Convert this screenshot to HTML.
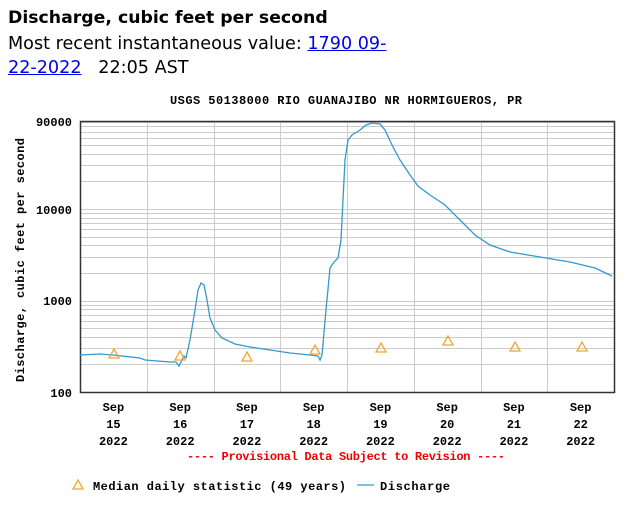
<!DOCTYPE html>
<html><head><meta charset="utf-8"><style>
body{margin:0;background:#fff;width:640px;height:508px;overflow:hidden;font-family:"DejaVu Sans","Liberation Sans",sans-serif}
.h{position:absolute;left:8px;top:8px;font-weight:bold;font-size:17.3px;color:#000}
.s{position:absolute;left:8px;top:32px;font-size:17.6px;line-height:24px;color:#000}
.s a{color:#00e;text-decoration:underline}
svg{position:absolute;left:0;top:0}
text{font-family:"Liberation Mono",monospace;font-weight:bold;font-size:12px}
</style></head><body>
<div class="h">Discharge, cubic feet per second</div>
<div class="s">Most recent instantaneous value: <a>1790 09-<br>22-2022</a> &nbsp; 22:05 AST</div>
<svg width="640" height="508">
<text x="346" y="104" text-anchor="middle" textLength="352" font-size="11">USGS 50138000 RIO GUANAJIBO NR HORMIGUEROS, PR</text>
<g stroke="#ccc" stroke-width="1" id="g"></g>
<rect x="80.5" y="121.5" width="534" height="271" fill="none" stroke="#333" stroke-width="1.5"/>
<g font-size="12" text-anchor="end">
<text x="72" y="126">90000</text><text x="72" y="214">10000</text><text x="72" y="305">1000</text><text x="72" y="397">100</text>
</g>
<text transform="translate(24,260) rotate(-90)" text-anchor="middle" textLength="244">Discharge, cubic feet per second</text>
<g text-anchor="middle" id="xl"></g>
<polyline fill="none" stroke="#3399cc" stroke-width="1.3" points="80,355 100,354 113,355 140,358 145,360 170,362 176,362 179,366 181,362 184,356 186,358 190,340 195,310 198,290 201,283 204,285 207,300 210,318 215,330 222,338 235,344 250,347 270,350 290,353 310,355 318,356 320,360 322,355 326,310 330,268 334,262 338,258 341,240 343,200 345,160 348,140 352,135 360,130 366,125 372,123 380,124 385,130 392,145 400,160 410,175 418,186 430,195 445,205 460,220 475,235 490,245 510,252 540,257 570,262 595,268 612,276"/>
<g fill="none" stroke="#f0a830" stroke-width="1.3" id="tr"></g>
<text x="346" y="460" text-anchor="middle" fill="#e00" textLength="318">---- Provisional Data Subject to Revision ----</text>
<path d="M78,480 L83,489 L73,489 Z" fill="none" stroke="#f0a830" stroke-width="1.3"/>
<text x="93" y="490" textLength="253">Median daily statistic (49 years)</text>
<line x1="357" y1="485" x2="374" y2="485" stroke="#3399cc" stroke-width="1.3"/>
<text x="380" y="490" textLength="70">Discharge</text>
</svg>
<script>
var g=document.getElementById('g'),ns='http://www.w3.org/2000/svg';
function y(v){return 392-91.5*Math.log10(v/100);}
function ln(x1,y1,x2,y2){var l=document.createElementNS(ns,'line');l.setAttribute('x1',x1);l.setAttribute('y1',y1);l.setAttribute('x2',x2);l.setAttribute('y2',y2);g.appendChild(l);}
[100,1000,10000].forEach(function(d){for(var k=2;k<=9;k++){var v=d*k;var yy=Math.round(y(v))+.5;ln(80,yy,614,yy);}});
ln(80,301.5,614,301.5);ln(80,209.5,614,209.5);
for(var i=1;i<8;i++){var x=Math.round(80+66.75*i)+.5;ln(x,121,x,392);}
var xl=document.getElementById('xl');
for(var i=0;i<8;i++){var cx=113.4+66.75*i;['Sep',String(15+i),'2022'].forEach(function(t,j){var e=document.createElementNS(ns,'text');e.setAttribute('x',cx);e.setAttribute('y',411+j*17);e.textContent=t;xl.appendChild(e);});}
var tr=document.getElementById('tr');
[[114,354],[180,356],[247,357],[315,350],[381,348],[448,341],[515,347],[582,347]].forEach(function(p){var e=document.createElementNS(ns,'path');e.setAttribute('d','M'+p[0]+','+(p[1]-5)+' L'+(p[0]+5)+','+(p[1]+4)+' L'+(p[0]-5)+','+(p[1]+4)+' Z');tr.appendChild(e);});
</script>
</body></html>
